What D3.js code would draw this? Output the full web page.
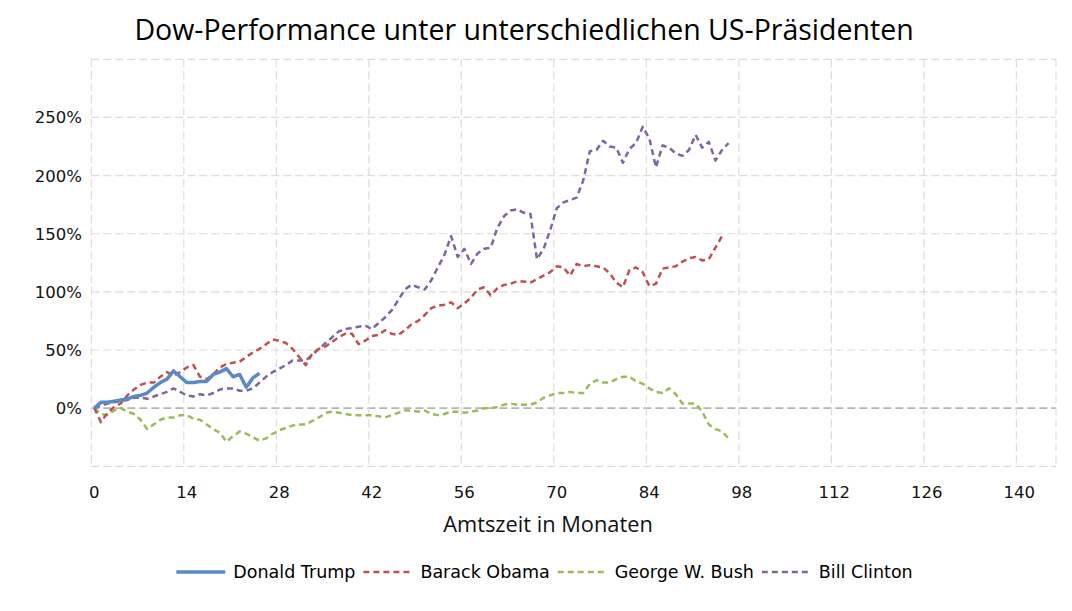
<!DOCTYPE html>
<html>
<head>
<meta charset="utf-8">
<script src="https://cdn.jsdelivr.net/npm/d3@7"></script>
<style>
  html, body { margin: 0; padding: 0; background: #ffffff; }
  svg { display: block; }
</style>
</head>
<body>
<svg id="chart" width="1072" height="611"></svg>
<script>
// ---------- data (percent change of the Dow, by month in office) ----------
const seriesNames = ["Donald Trump", "Barack Obama", "George W. Bush", "Bill Clinton"];

const trump = [0, 5, 5, 6, 7, 8, 10, 11, 13, 18, 22, 25, 32, 27, 22, 22, 23, 23, 29, 31, 34, 27, 29, 18, 26, 30];

const obama = [0, -12, -4, 1, 4, 11, 16, 20, 22, 22, 27, 31, 28, 31, 35, 37, 27, 25, 29, 35,
  38, 39, 40, 44, 48, 51, 55, 59, 58, 56, 51, 44, 37, 47, 51, 53, 57, 61, 64, 64,
  55, 58, 62, 63, 67, 64, 63, 67, 72, 75, 80, 86, 88, 89, 91, 86, 90, 95, 102, 104,
  97, 103, 106, 107, 109, 109, 108, 111, 114, 117, 122, 121, 114, 124, 122, 123, 122, 121, 116, 108,
  104, 119, 121, 117, 105, 107, 120, 121, 122, 126, 129, 130, 127, 128, 138, 148];

const bush = [0, -5, -6, -2, 0, -3, -5, -10, -18, -14, -10, -8, -8, -6, -6, -9, -10, -14, -18, -21,
  -29, -24, -20, -22, -25, -28, -26, -22, -19, -17, -15, -14, -14, -11, -8, -4, -3, -4, -5, -6,
  -6, -6, -6, -7, -8, -6, -4, -2, -2, -3, -2, -5, -6, -5, -3, -3, -4, -3, -2, 0,
  0, 1, 3, 4, 3, 3, 3, 5, 9, 11, 13, 13, 14, 13, 13, 21, 24, 22, 22, 25,
  27, 27, 23, 21, 17, 14, 13, 17, 12, 4, 4, 4, -3, -14, -18, -20, -26];

const clinton = [0, 2, 4, 5, 6, 7, 9, 9, 8, 10, 12, 14, 17, 14, 11, 10, 12, 11, 13, 16,
  17, 17, 15, 15, 17, 22, 27, 31, 34, 37, 41, 41, 41, 46, 51, 56, 61, 66, 68, 69,
  70, 71, 68, 73, 78, 84, 93, 102, 106, 104, 102, 110, 121, 132, 148, 130, 137, 124, 133, 137,
  138, 155, 165, 170, 171, 168, 167, 128, 137, 153, 172, 177, 179, 181, 196, 221, 222, 230, 225, 224,
  211, 223, 228, 242, 232, 207, 226, 224, 219, 217, 222, 235, 224, 229, 213, 222, 228];

const xTicks = [0, 14, 28, 42, 56, 70, 84, 98, 112, 126, 140];
const yTicks = [0, 50, 100, 150, 200, 250];
const yGrid = [-50, 0, 50, 100, 150, 200, 250, 300];

const titleText = "Dow-Performance unter unterschiedlichen US-Präsidenten";
const xAxisTitle = "Amtszeit in Monaten";

// ---------- styling ----------
const colors = ["#5a8ac6", "#c0504d", "#9bbb59", "#8064a2"];
const dashes = [null, "6,4", "6,4", "6,4"];
const widths = [3.5, 2.5, 2.5, 2.5];
const allSeries = [trump, obama, bush, clinton];

const svg = d3.select("#chart");
const tickFont = "'DejaVu Sans', Verdana, sans-serif";
const titleFont = "'Open Sans', 'Noto Sans', sans-serif";

const gridShift = -3;   // gridlines sit slightly left of tick/label positions
const x = d3.scaleLinear().domain([0, 146]).range([94.3, 1059]);
const y = d3.scaleLinear().domain([-50, 300]).range([466.3, 59.3]);

const left = x(0) + gridShift, right = x(146) + gridShift;

// grid
const grid = svg.append("g");
grid.selectAll("line.h").data(yGrid).enter().append("line")
  .attr("x1", left).attr("x2", right)
  .attr("y1", d => y(d)).attr("y2", d => y(d))
  .attr("stroke", d => d === 0 ? "#b4b4b4" : "#dcdcdc")
  .attr("stroke-width", d => d === 0 ? 1.6 : 1.2)
  .attr("stroke-dasharray", "8,4");
grid.selectAll("line.v").data(xTicks.concat([146])).enter().append("line")
  .attr("x1", d => x(d) + gridShift).attr("x2", d => x(d) + gridShift)
  .attr("y1", y(300)).attr("y2", y(-50))
  .attr("stroke", "#dcdcdc").attr("stroke-width", 1.2)
  .attr("stroke-dasharray", "8,4");

// y tick labels
svg.append("g").selectAll("text").data(yTicks).enter().append("text")
  .attr("x", 82).attr("y", d => y(d)).attr("dy", "0.36em")
  .attr("text-anchor", "end")
  .style("font-family", tickFont).style("font-size", "16.5px").attr("fill", "#111")
  .text(d => d + "%");

// x tick labels
svg.append("g").selectAll("text").data(xTicks).enter().append("text")
  .attr("x", d => x(d)).attr("y", 498)
  .attr("text-anchor", "middle")
  .style("font-family", tickFont).style("font-size", "16.5px").attr("fill", "#111")
  .text(d => d);

// lines (draw Clinton, Bush, Obama first, Trump on top)
const line = d3.line().x((d, i) => x(i)).y(d => y(d));
[3, 2, 1, 0].forEach(k => {
  svg.append("path")
    .datum(allSeries[k])
    .attr("d", line)
    .attr("fill", "none")
    .attr("stroke", colors[k])
    .attr("stroke-width", widths[k])
    .attr("stroke-linejoin", "round")
    .attr("stroke-dasharray", dashes[k]);
});

// title
svg.append("text")
  .attr("x", 524).attr("y", 40).attr("text-anchor", "middle")
  .style("font-family", titleFont).style("font-size", "28.5px").attr("fill", "#000")
  .text(titleText);

// x-axis title
svg.append("text")
  .attr("x", 548).attr("y", 532).attr("text-anchor", "middle")
  .style("font-family", titleFont).style("font-size", "21.8px").attr("fill", "#111")
  .text(xAxisTitle);

// legend
const legend = svg.append("g");
const sampleW = 49, gapAfterSample = 8, gapAfterText = 8;
let cursor = 0;
seriesNames.forEach((name, k) => {
  const g = legend.append("g");
  g.append("line")
    .attr("x1", cursor).attr("x2", cursor + sampleW).attr("y1", 0).attr("y2", 0)
    .attr("stroke", colors[k]).attr("stroke-width", widths[k])
    .attr("stroke-dasharray", dashes[k]);
  const t = g.append("text")
    .attr("x", cursor + sampleW + gapAfterSample).attr("y", 0).attr("dy", "0.36em")
    .style("font-family", tickFont).style("font-size", "17.5px").attr("fill", "#000")
    .text(name);
  cursor += sampleW + gapAfterSample + t.node().getComputedTextLength() + gapAfterText;
});
const total = cursor - gapAfterText;
legend.attr("transform", `translate(${544.5 - total / 2},572)`);
</script>
</body>
</html>
